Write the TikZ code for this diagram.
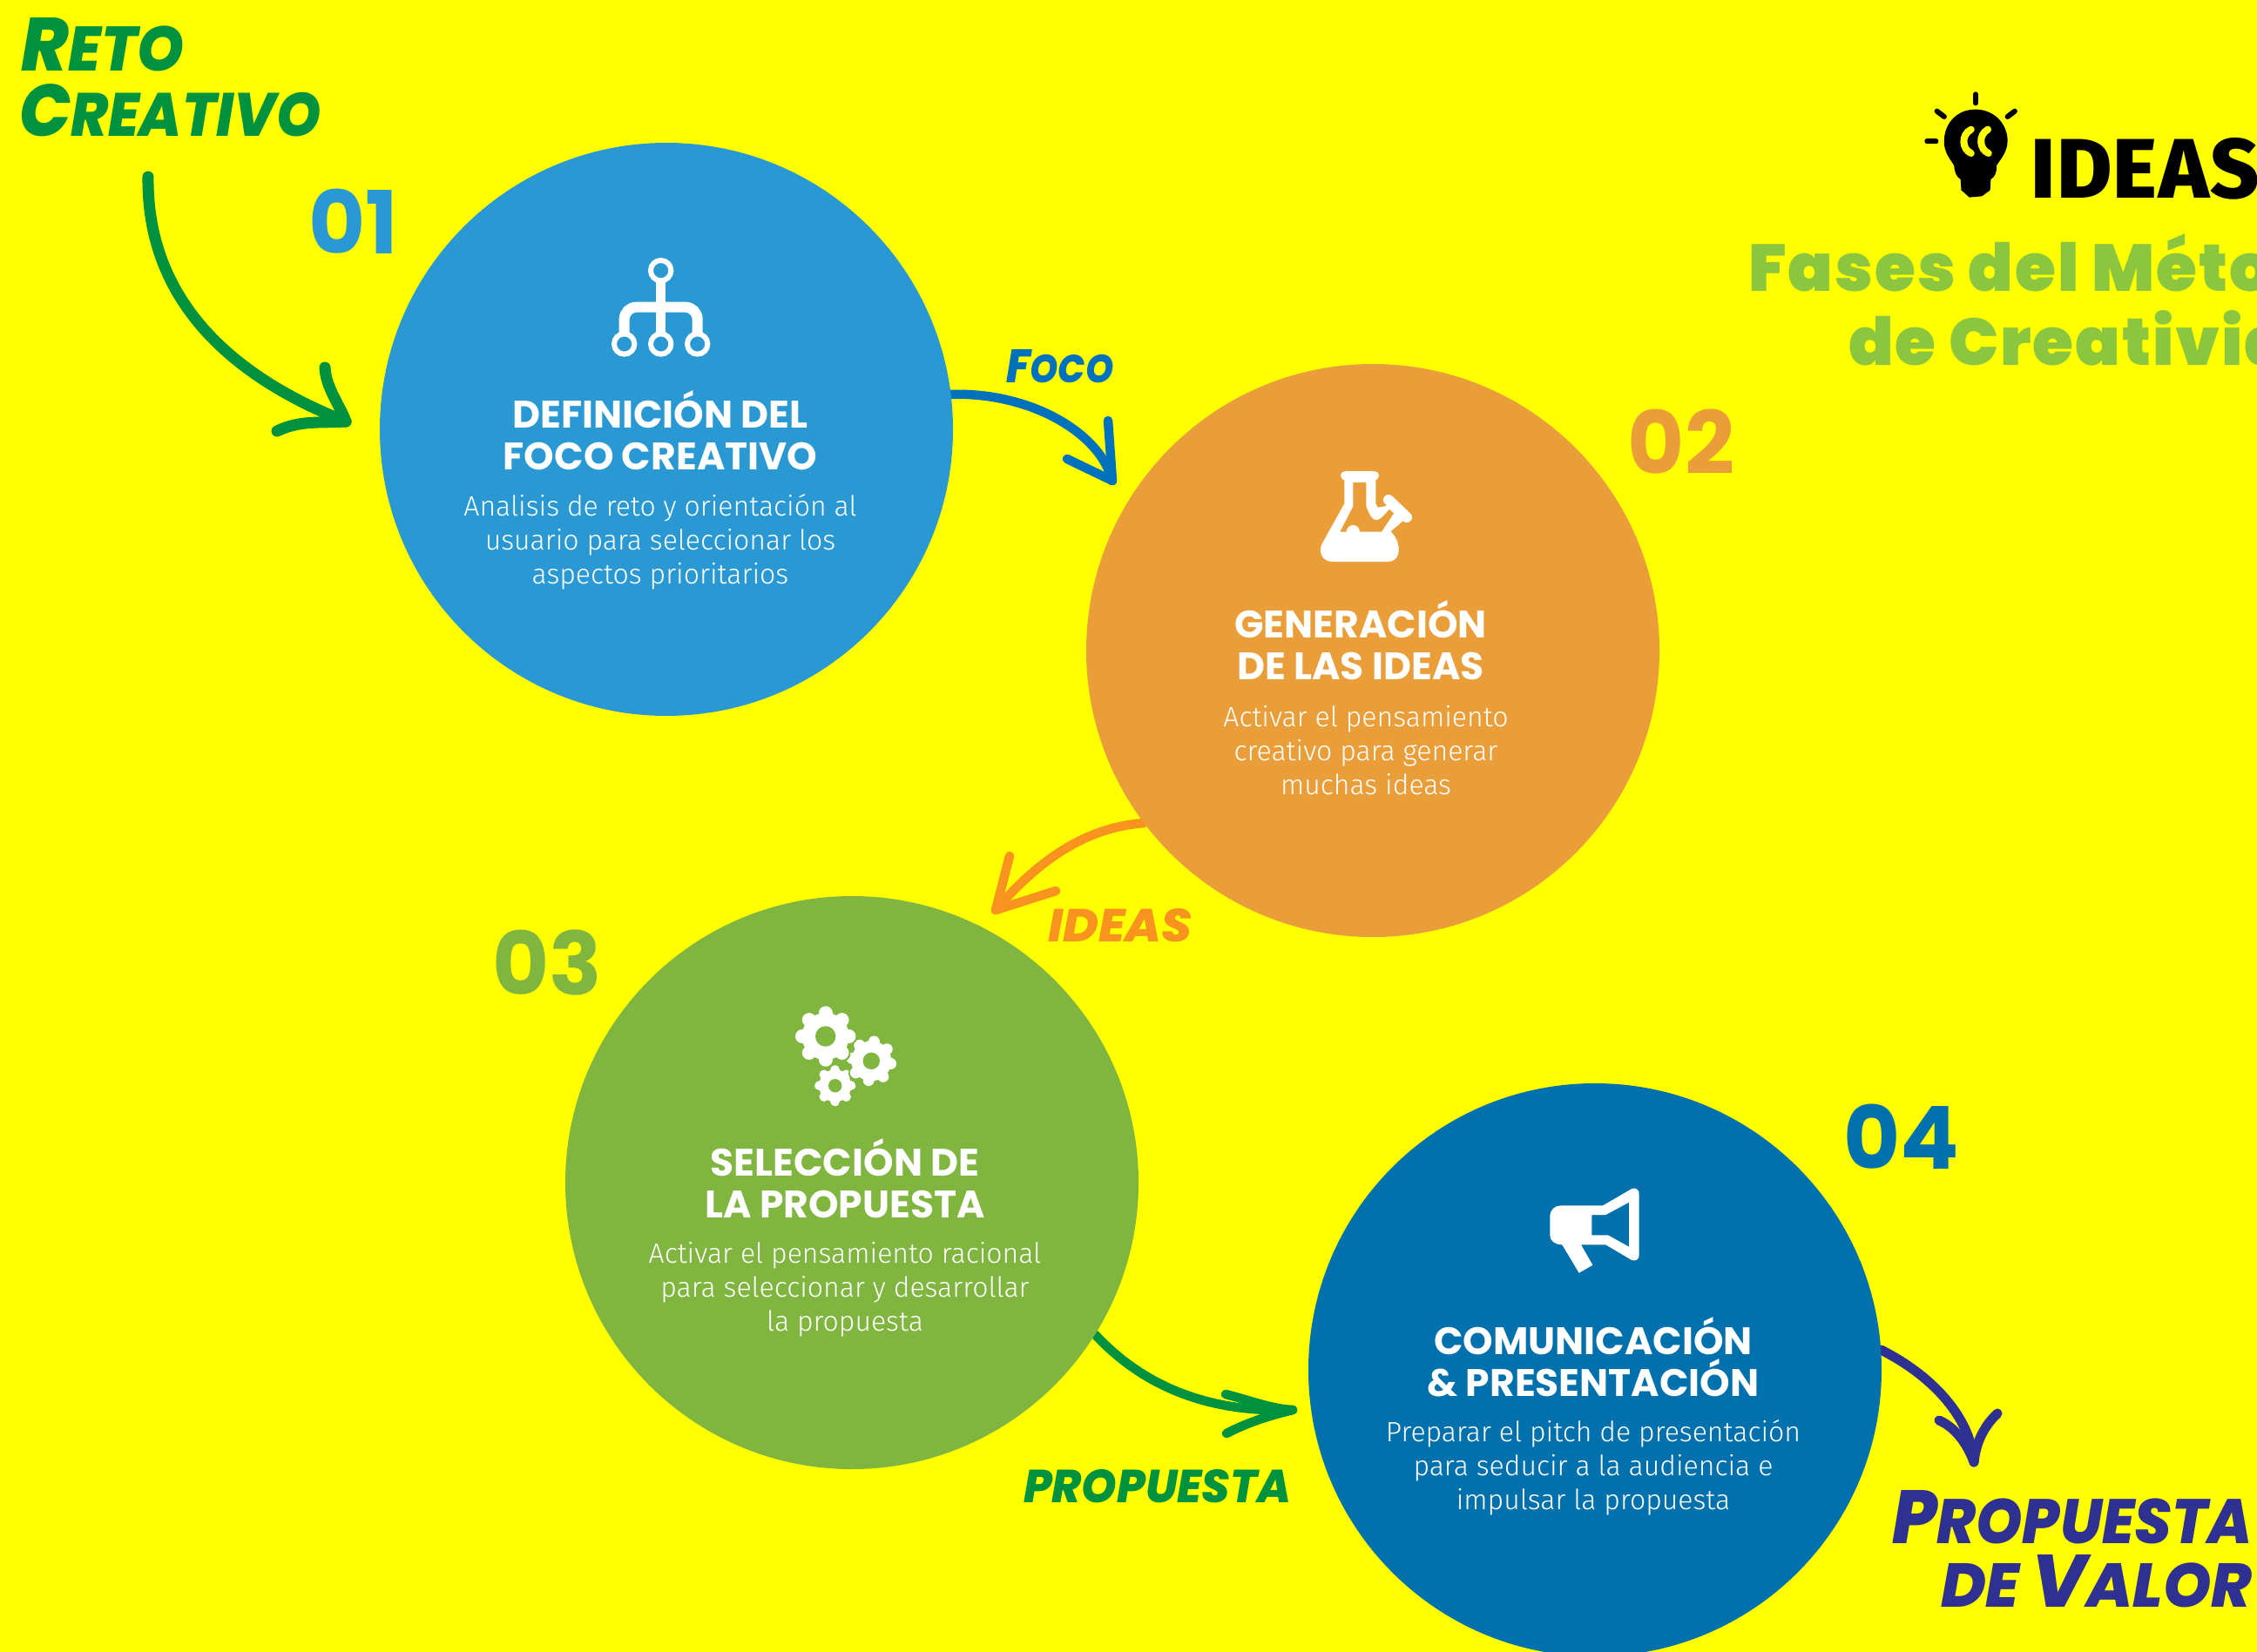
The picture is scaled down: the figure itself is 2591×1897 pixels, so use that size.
\documentclass[tikz,border=0pt]{standalone}
\usepackage{fontspec}
\usepackage{graphicx}
\newfontfamily\headfont{Poppins Bold}
\newfontfamily\numfont{Poppins Bold}
\newfontfamily\titlefont{Poppins Black}[LetterSpace=2.5]
\newfontfamily\bodyfont{Fira Sans Light}
\newfontfamily\logofont{Fira Sans ExtraBold}[LetterSpace=1.5]
\newfontfamily\handfont{Poppins ExtraBold Italic}
\definecolor{bgy}{HTML}{FFFF00}
\definecolor{cblue}{HTML}{2A99D3}
\definecolor{corange}{HTML}{EA9E3A}
\definecolor{cgreen}{HTML}{80B540}
\definecolor{cdeep}{HTML}{0071AD}
\definecolor{agreen}{HTML}{00923F}
\definecolor{ablue}{HTML}{0071BC}
\definecolor{aorange}{HTML}{F7931E}
\definecolor{anavy}{HTML}{2E3192}
\definecolor{tgreen}{HTML}{8CC63F}
\newcommand{\hw}[3]{\resizebox{#1pt}{#2pt}{\handfont\fontsize{40}{40}\selectfont #3}}
\newcommand{\hwcap}[1]{{\fontsize{48}{48}\selectfont #1}}
\newcommand{\drawgear}[8]{% x y R r hole toothw rot fillcolor
  \foreach \ga in {0,45,...,315}{\draw[#8,line width=#6pt,line cap=round]
     (#1,#2) -- ++({(#3-#6/2)*cos(\ga+#7)},{(#3-#6/2)*sin(\ga+#7)});}
  \fill[#8] (#1,#2) circle[radius=#4];
}
\tikzset{
  phase/.style={circle,minimum size=658pt,inner sep=0pt,draw=none},
  headtxt/.style={text=white,align=center,inner sep=0pt,font=\headfont\fontsize{44}{48}\selectfont},
  bodytxt/.style={text=white,align=center,inner sep=0pt,font=\bodyfont\fontsize{32}{39}\selectfont},
  numtxt/.style={inner sep=0pt,font=\numfont\fontsize{100}{100}\selectfont},
  hand/.style={inner sep=0pt,anchor=south west},
  shaft/.style={line width=#1pt,line cap=round,line join=round},
  shaft/.default=10.5,
}
\begin{document}
\begin{tikzpicture}[x=1pt,y=-1pt]
\useasboundingbox (0,0) rectangle (2591,1897);
\clip (0,0) rectangle (2591,1897);
\fill[bgy] (0,0) rectangle (2591,1897);

% circles as coordinates of the connectors
\node[phase] (c1) at (765,493) {};
\node[phase] (c2) at (1576,747) {};
\node[phase] (c3) at (978,1358) {};
\node[phase] (c4) at (1831,1573) {};

% connector ends
\coordinate (retostart) at (170,203);
\coordinate (retotip) at (397,484);
\coordinate (focotip) at (1277,552);
\coordinate (ideastip) at (1143,1045);
\coordinate (proptip) at (1484,1619);
\coordinate (valortip) at (2266,1679);

% connectors
\draw[agreen,shaft=13] (retostart) .. controls (168,358) and (285,440) .. (retotip);
\draw[agreen,shaft=13] (373,422) .. controls (374,445) and (390,465) .. (retotip);
\draw[agreen,shaft=13] (318,495) .. controls (345,482) and (370,486) .. (retotip);

\draw[ablue,shaft] (c1.7.7) .. controls (1180,450) and (1262,495) .. (focotip);
\draw[ablue,shaft] (1272,483) -- (focotip);
\draw[ablue,shaft] (1225,527) -- (focotip);

\draw[aorange,shaft] (c2.217.2) .. controls (1245,950) and (1190,990) .. (ideastip);
\draw[aorange,shaft] (1159,983) -- (ideastip);
\draw[aorange,shaft] (1212,1023) -- (ideastip);

\draw[agreen,shaft] (c3.-32) .. controls (1320,1600) and (1400,1622) .. (proptip);
\draw[agreen,shaft] (1407,1601) .. controls (1435,1608) and (1460,1618) .. (proptip);
\draw[agreen,shaft] (1408,1646) .. controls (1435,1632) and (1460,1625) .. (proptip);

\draw[anavy,shaft=11] (c4.4.3) .. controls (2215,1578) and (2262,1625) .. (valortip);
\draw[anavy,shaft=11] (2226,1631) .. controls (2247,1640) and (2260,1662) .. (valortip);
\draw[anavy,shaft=11] (2293,1623) .. controls (2275,1640) and (2268,1660) .. (valortip);

% discs
\fill[cblue] (c1) circle[radius=329];
\fill[corange] (c2) circle[radius=329];
\fill[cgreen] (c3) circle[radius=329];
\fill[cdeep] (c4) circle[radius=329];

% numbers
\node[numtxt,text=cblue] (n1) at (406,254) {01};
\node[numtxt,text=corange] (n2) at (1930,507) {02};
\node[numtxt,text=cgreen] (n3) at (628,1105) {03};
\node[numtxt,text=cdeep] (n4) at (2183,1305) {04};

% phase text
\node[headtxt] (h1) at (758,494) {DEFINICIÓN DEL\\FOCO CREATIVO};
\node[bodytxt] (b1) at (758,622) {Analisis de reto y orientación al\\usuario para seleccionar los\\aspectos prioritarios};
\node[headtxt] (h2) at (1562,735) {GENERACIÓN\\DE LAS IDEAS};
\node[bodytxt] (b2) at (1568,862) {Activar el pensamiento\\creativo para generar\\muchas ideas};
\node[headtxt] (h3) at (970,1353) {SELECCIÓN DE\\LA PROPUESTA};
\node[bodytxt] (b3) at (970,1481) {Activar el pensamiento racional\\para seleccionar y desarrollar\\la propuesta};
\node[headtxt] (h4) at (1829,1558) {COMUNICACIÓN\\\& PRESENTACIÓN};
\node[bodytxt] (b4) at (1829,1685) {Preparar el pitch de presentación\\para seducir a la audiencia e\\impulsar la propuesta};

% handwritten labels
\node[hand,text=agreen] (reto) at (24,82) {\hw{187}{61}{\hwcap{R}ETO}};
\node[hand,text=agreen] (creativo) at (22,157) {\hw{346}{60}{\hwcap{C}REATIVO}};
\node[hand,text=ablue] (foco) at (1155,440) {\hw{123}{38}{\hwcap{F}OCO}};
\node[hand,text=aorange] (ideas) at (1203,1082) {\hw{165}{38}{IDEAS}};
\node[hand,text=agreen] (prop) at (1175,1726) {\hw{307}{38}{PROPUESTA}};
\node[hand,text=anavy] (propv) at (2172,1773) {\hw{413}{61}{\hwcap{P}ROPUESTA}};
\node[hand,text=anavy] (valor) at (2228,1846) {\hw{357}{60}{DE \hwcap{V}ALOR}};

% title
\node[anchor=base west,inner sep=0pt,font=\logofont\fontsize{97}{97}\selectfont] (logo) at (2331,227) {IDEAS};
\node[anchor=base west,inner sep=0pt,text=tgreen,font=\titlefont\fontsize{76}{76}\selectfont] (t1) at (2007,334) {Fases del Método};
\node[anchor=base west,inner sep=0pt,text=tgreen,font=\titlefont\fontsize{76}{76}\selectfont] (t2) at (2122,419) {de Creatividad};

% bulb icon
\begin{scope}[shift={(2000,80)},x=0.377pt,y=-0.33333pt]
\fill[black] (710,137) .. controls (770,137) and (808,190) .. (808,245)
  .. controls (808,285) and (785,310) .. (775,330) .. controls (775,350) and (772,368) .. (757,378)
  -- (755,415) -- (730,436) -- (692,440) -- (667,415) -- (665,378)
  .. controls (650,368) and (647,350) .. (645,330) .. controls (635,310) and (613,285) .. (615,245)
  .. controls (615,190) and (650,137) .. (710,137) -- cycle;
\draw[bgy,line width=8pt,line cap=round] (697,206) .. controls (665,225) and (670,275) .. (697,288);
\draw[bgy,line width=8pt,line cap=round] (748,206) .. controls (718,225) and (722,275) .. (750,288);
\draw[black,line width=6pt,line cap=round] (711,85) -- (711,115);
\draw[black,line width=6pt,line cap=round] (593,143) -- (615,162);
\draw[black,line width=6pt,line cap=round] (830,143) -- (808,162);
\draw[black,line width=6pt,line cap=round] (563,247) -- (590,247);
\end{scope}

% tree icon
\begin{scope}[shift={(640,270)},x=0.33333pt,y=-0.33333pt]
\draw[white,line width=6pt] (356,122) circle[radius=35];
\draw[white,line width=6pt] (230,375) circle[radius=35];
\draw[white,line width=6pt] (356,375) circle[radius=35];
\draw[white,line width=6pt] (482,375) circle[radius=35];
\draw[white,line width=11pt] (356,155) -- (356,345);
\draw[white,line width=12pt,rounded corners=14pt] (230,345) -- (230,248) -- (482,248) -- (482,345);
\end{scope}

% flask icon
\begin{scope}[shift={(1480,510)},x=0.33333pt,y=-0.33333pt]
\draw[white,line width=11pt,line cap=round] (194,108) -- (292,108);
\fill[white] (190,115) -- (190,205) -- (112,345) .. controls (100,375) and (115,405) .. (150,405)
  -- (340,405) .. controls (375,405) and (390,365) .. (365,320) -- (350,300) -- (395,262)
  -- (350,205) -- (325,215) -- (305,218) -- (298,205) -- (298,115) -- cycle;
\fill[corange] (220,132) -- (265,132) -- (265,215) .. controls (275,240) and (285,262) .. (300,262)
  .. controls (315,262) and (330,240) .. (345,225) -- (360,238) -- (318,302) -- (175,302) -- (220,215) -- cycle;
\fill[white] (220,302) circle[radius=23];
\draw[white,line width=12pt,line cap=round] (342,192) -- (405,252);
\end{scope}

% gear icon
\drawgear{958.7}{1246.7}{23.5}{18.5}{7.7}{11}{0}{white}
\fill[cgreen] (958.7,1246.7) circle[radius=7.7];
\drawgear{1000.3}{1218.3}{31}{25}{9.7}{15}{8}{cgreen}
\drawgear{1000.3}{1218.3}{29}{23}{9.7}{13}{8}{white}
\fill[cgreen] (1000.3,1218.3) circle[radius=9.7];
\drawgear{947.7}{1190}{37}{29}{11.7}{18}{0}{cgreen}
\drawgear{947.7}{1190}{34.7}{27}{11.7}{16}{0}{white}
\fill[cgreen] (947.7,1190) circle[radius=11.7];

% megaphone icon
\begin{scope}[shift={(1750,1340)},x=0.33333pt,y=-0.33333pt]
\fill[white,even odd rule] (125,133) -- (270,133) -- (370,75) .. controls (382,70) and (395,78) .. (395,92)
  -- (395,305) .. controls (395,320) and (380,326) .. (368,320) -- (280,268) -- (195,268) -- (235,338)
  -- (188,365) -- (130,268) .. controls (105,268) and (88,255) .. (88,235) -- (88,170) .. controls (88,148) and (105,133) .. (125,133) -- cycle
  (232,165) -- (280,165) -- (360,122) -- (360,275) -- (288,235) -- (232,235) -- cycle;
\end{scope}
\end{tikzpicture}
\end{document}
